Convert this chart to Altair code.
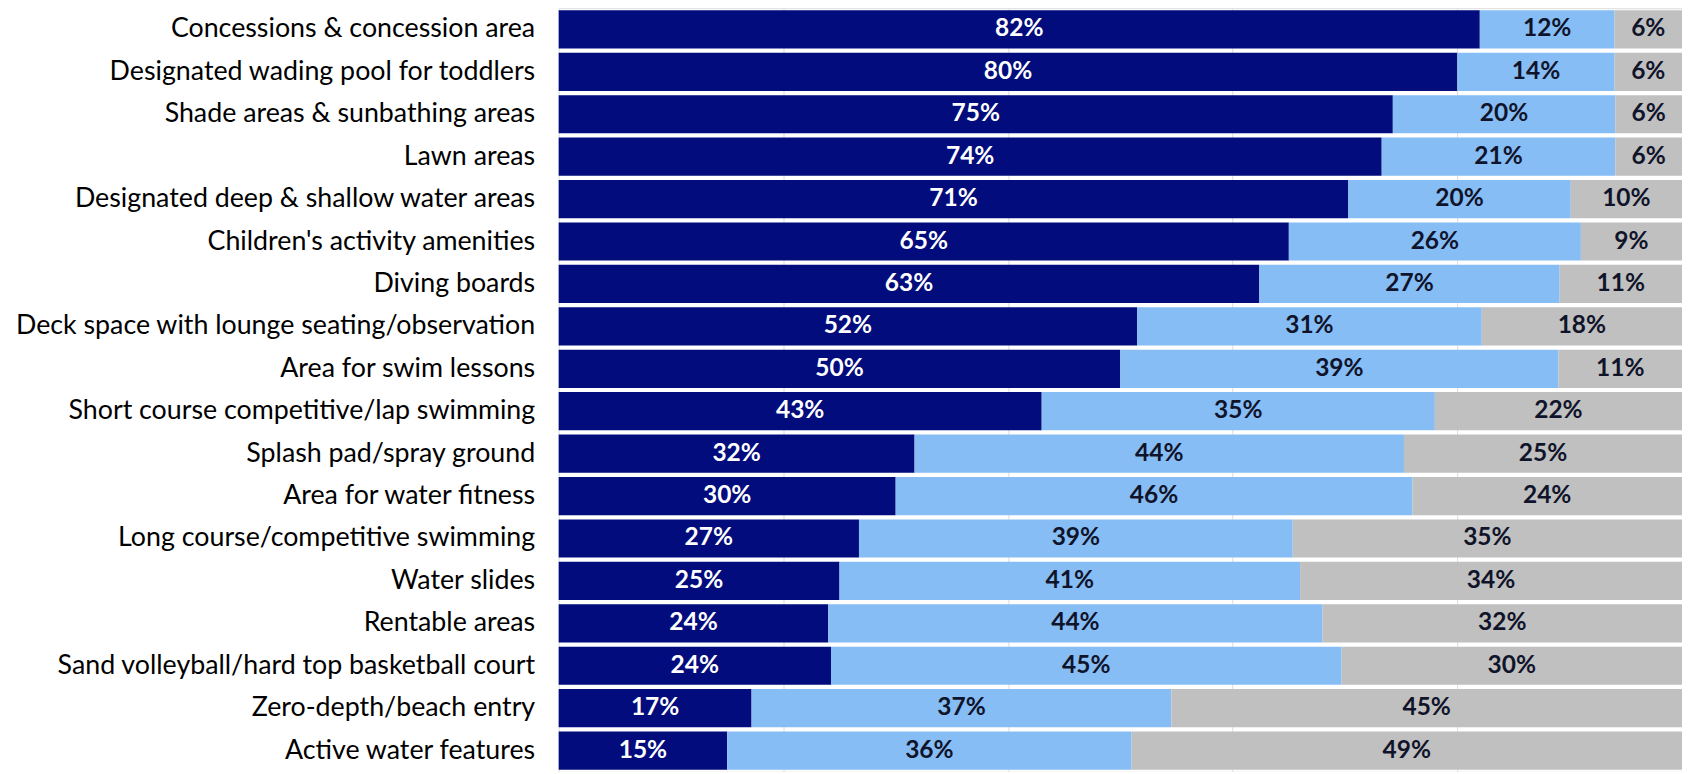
import altair as alt
import pandas as pd

categories = [
    "Concessions & concession area",
    "Designated wading pool for toddlers",
    "Shade areas & sunbathing areas",
    "Lawn areas",
    "Designated deep & shallow water areas",
    "Children's activity amenities",
    "Diving boards",
    "Deck space with lounge seating/observation",
    "Area for swim lessons",
    "Short course competitive/lap swimming",
    "Splash pad/spray ground",
    "Area for water fitness",
    "Long course/competitive swimming",
    "Water slides",
    "Rentable areas",
    "Sand volleyball/hard top basketball court",
    "Zero-depth/beach entry",
    "Active water features",
]
series = ["Very important", "Somewhat important", "Not important"]
very = [82, 80, 75, 74, 71, 65, 63, 52, 50, 43, 32, 30, 27, 25, 24, 24, 17, 15]
somewhat = [12, 14, 20, 21, 20, 26, 27, 31, 39, 35, 44, 46, 39, 41, 44, 45, 37, 36]
not_imp = [6, 6, 6, 6, 10, 9, 11, 18, 11, 22, 25, 24, 35, 34, 32, 30, 45, 49]
colors = ["#020C7C", "#86BDF5", "#C0C0C0"]

rows = []
for i, c in enumerate(categories):
    for k, vals in enumerate([very, somewhat, not_imp]):
        rows.append({"category": c, "series": series[k], "order": k, "value": vals[i]})
df = pd.DataFrame(rows)

FONT = "Lato"

base = alt.Chart(df).transform_joinaggregate(
    total="sum(value)", groupby=["category"]
).transform_calculate(
    frac="datum.value / datum.total"
).transform_window(
    cum="sum(frac)", groupby=["category"], sort=[{"field": "order"}], frame=[None, 0]
).transform_calculate(
    start="datum.cum - datum.frac",
    mid="datum.cum - datum.frac / 2",
    label="datum.value + '%'",
)

yenc = alt.Y(
    "category:N",
    sort=categories,
    scale=alt.Scale(paddingInner=0.1, paddingOuter=0.05),
    axis=alt.Axis(
        title=None,
        ticks=False,
        domain=False,
        labelFont=FONT,
        labelFontSize=26.8,
        labelColor="#000000",
        labelPadding=24,
        labelLimit=600,
        minExtent=551,
        maxExtent=551,
    ),
)

xscale = alt.Scale(domain=[0, 1], nice=False, zero=True)

bars = base.mark_bar(cornerRadius=0).encode(
    x=alt.X(
        "start:Q",
        scale=xscale,
        axis=alt.Axis(
            title=None,
            labels=False,
            ticks=False,
            domain=False,
            grid=True,
            gridColor="#dcdcdc",
            gridWidth=1,
            values=[0.2, 0.4, 0.6, 0.8],
        ),
    ),
    x2="cum:Q",
    y=yenc,
    color=alt.Color("series:N", scale=alt.Scale(domain=series, range=colors), legend=None),
)

text = base.mark_text(font=FONT, fontSize=24.5, fontWeight="bold", baseline="middle", align="center").encode(
    x=alt.X("mid:Q", scale=xscale),
    y=alt.Y("category:N", sort=categories),
    text="label:N",
    color=alt.condition(
        alt.datum.order == 0, alt.value("#FFFFFF"), alt.value("#10142A")
    ),
)

chart = (
    alt.layer(bars, text)
    .properties(width=1124, height=764, padding={"left": 0, "top": 0, "right": 0, "bottom": 0})
    .configure_view(stroke="#3a3a3a", strokeWidth=1.5)
    .configure(background="white")
)

chart.save("out.html", embed_options={"renderer": "svg", "actions": False})
